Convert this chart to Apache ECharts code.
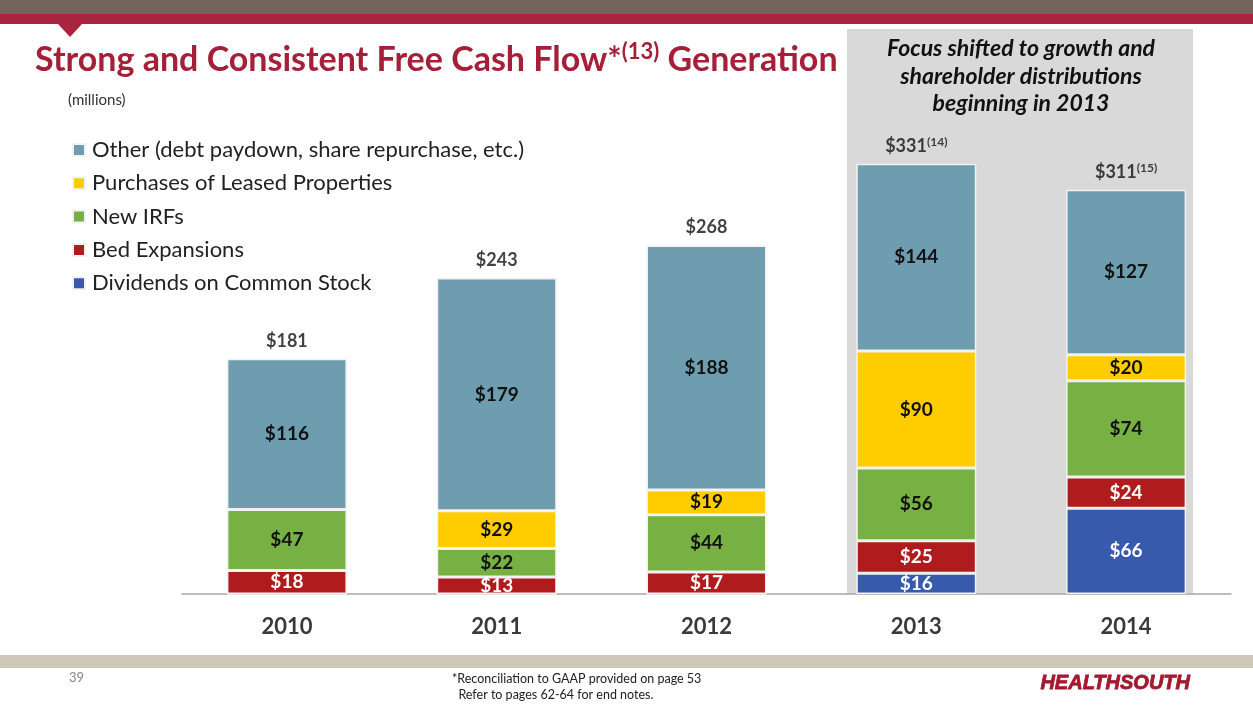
<!DOCTYPE html>
<html>
<head>
<meta charset="utf-8">
<script src="https://cdn.jsdelivr.net/npm/echarts@6/dist/echarts.min.js"></script>
<style>
  html, body { margin: 0; padding: 0; background: #fff; }
  #chart { width: 1253px; height: 705px; }
</style>
</head>
<body>
<div id="chart"></div>
<script>
// 数据
const years = ['2010', '2011', '2012', '2013', '2014'];
const dividends = [0, 0, 0, 16, 66];
const bedExpansions = [18, 13, 17, 25, 24];
const newIRFs = [47, 22, 44, 56, 74];
const leasedProps = [0, 29, 19, 90, 20];
const other = [116, 179, 188, 144, 127];
const totals = [181, 243, 268, 331, 311];
const totalNotes = ['', '', '', '(14)', '(15)'];

const FONT = 'Lato, "Open Sans", sans-serif';
const chart = echarts.init(document.getElementById('chart'));

// 段内标签
const segLabel = (color) => ({
    show: true,
    position: 'inside',
    color: color,
    fontFamily: FONT,
    fontWeight: 'bold',
    fontSize: 19,
    formatter: p => p.value ? '$' + p.value : ''
});

const segment = (name, data, color, labelColor) => ({
    name: name,
    type: 'bar',
    stack: 'fcf',
    data: data,
    barWidth: 120,
    itemStyle: { color: color, borderColor: '#f2f2f2', borderWidth: 1.5 },
    label: segLabel(labelColor)
});

chart.setOption({
    animation: false,
    grid: { left: 182, right: 22, top: 74, bottom: 111 },
    legend: {
        orient: 'vertical',
        left: 72,
        top: 139,
        padding: 0,
        icon: 'rect',
        itemWidth: 12,
        itemHeight: 12,
        itemGap: 11.3,
        textStyle: { fontFamily: FONT, fontSize: 22, color: '#222', lineHeight: 22, padding: [0, 0, 0, 2] },
        data: ['Other (debt paydown, share repurchase, etc.)', 'Purchases of Leased Properties',
               'New IRFs', 'Bed Expansions', 'Dividends on Common Stock']
    },
    xAxis: {
        type: 'category',
        data: years,
        axisLine: { lineStyle: { color: '#a6a6a6', width: 1.5 } },
        axisTick: { show: false },
        axisLabel: { margin: 22, fontFamily: FONT, fontWeight: 'bold', fontSize: 22, color: '#3a3a3a' }
    },
    yAxis: { type: 'value', min: 0, max: 400, show: false, splitLine: { show: false } },
    graphic: [
        // 顶部条
        { type: 'rect', shape: { x: 0, y: 0, width: 1253, height: 14 }, style: { fill: '#73635b' }, z: 1 },
        { type: 'rect', shape: { x: 0, y: 14, width: 1253, height: 10 }, style: { fill: '#a8243f' }, z: 1 },
        { type: 'polygon', shape: { points: [[58, 24], [82, 24], [70, 37]] }, style: { fill: '#a8243f' }, z: 1 },
        // 灰色区域
        { type: 'rect', shape: { x: 847, y: 29, width: 346, height: 565 }, style: { fill: '#d9d9d9' }, z: -10 },
        {
            type: 'text', x: 1021, y: 35, z: 5,
            style: {
                text: 'Focus shifted to growth and\nshareholder distributions\nbeginning in 2013',
                align: 'center', verticalAlign: 'top',
                fontFamily: FONT, fontWeight: 'bold', fontStyle: 'italic', fontSize: 23,
                lineHeight: 27.5, fill: '#111'
            }
        },
        // 标题
        {
            type: 'text', left: 35, top: 41, z: 5,
            style: {
                text: 'Strong and Consistent Free Cash Flow*{sup|(13)} Generation',
                fontFamily: FONT, fontWeight: 'bold', fontSize: 34, fill: '#a61f38',
                rich: { sup: { fontFamily: FONT, fontWeight: 'bold', fontSize: 22, fill: '#a61f38', verticalAlign: 'top', padding: [0, 0, 16, 0] } }
            }
        },
        {
            type: 'text', left: 68, top: 93, z: 5,
            style: { text: '(millions)', fontFamily: FONT, fontSize: 15, fill: '#333' }
        },
        // 底部
        { type: 'rect', shape: { x: 0, y: 655, width: 1253, height: 13 }, style: { fill: '#cfc8b8' }, z: 1 },
        {
            type: 'text', left: 69, top: 671, z: 5,
            style: { text: '39', fontFamily: FONT, fontSize: 13, fill: '#888' }
        },
        {
            type: 'text', left: 452, top: 671, z: 5,
            style: {
                text: '*Reconciliation to GAAP provided on page 53\n  Refer to pages 62-64 for end notes.',
                fontFamily: FONT, fontSize: 12.5, lineHeight: 16, fill: '#222'
            }
        },
        {
            type: 'text', left: 1040, top: 673, z: 5,
            style: { text: 'HEALTHSOUTH', fontFamily: '"Liberation Sans", Arial, sans-serif', fontWeight: 'bold', fontStyle: 'italic', fontSize: 20, fill: '#a3192e', stroke: '#a3192e', lineWidth: 0.8 }
        }
    ],
    series: [
        segment('Dividends on Common Stock', dividends, '#375aac', '#fff'),
        segment('Bed Expansions', bedExpansions, '#b01c1e', '#fff'),
        segment('New IRFs', newIRFs, '#77b043', '#111'),
        segment('Purchases of Leased Properties', leasedProps, '#ffcc00', '#111'),
        segment('Other (debt paydown, share repurchase, etc.)', other, '#6e9daf', '#111'),
        {
            // 总计标签
            name: 'total',
            type: 'scatter',
            data: totals,
            symbolSize: 0,
            silent: true,
            label: {
                show: true,
                position: 'top',
                distance: 8,
                fontFamily: FONT,
                fontWeight: 'bold',
                fontSize: 18,
                lineHeight: 20,
                color: '#111',
                formatter: p => totalNotes[p.dataIndex] ? '$' + p.value + '{sup|' + totalNotes[p.dataIndex] + '}' : '$' + p.value,
                rich: { sup: { fontFamily: FONT, fontWeight: 'bold', fontSize: 12, lineHeight: 20, color: '#111', verticalAlign: 'top' } }
            }
        }
    ]
});
</script>
</body>
</html>
